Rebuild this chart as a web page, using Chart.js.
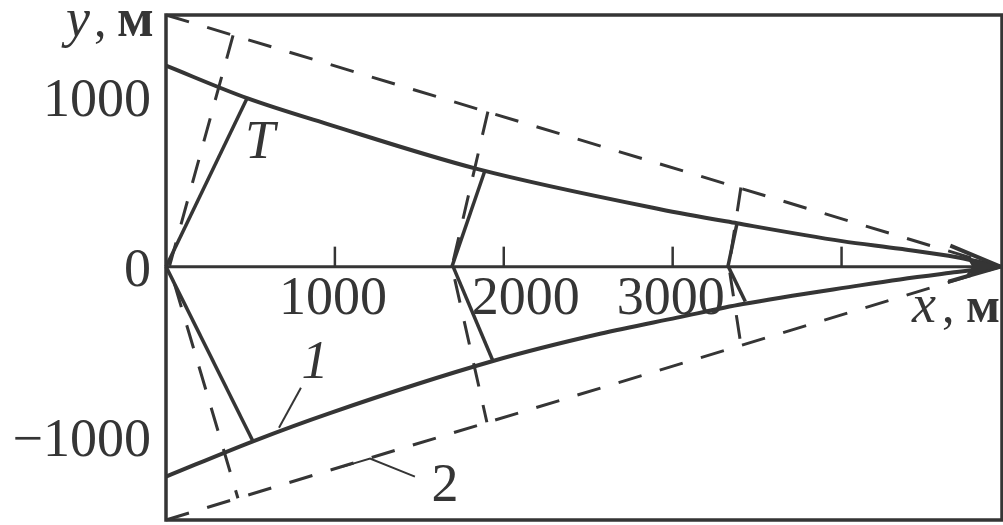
<!DOCTYPE html>
<html>
<head>
<meta charset="utf-8">
<script src="https://cdn.jsdelivr.net/npm/chart.js@4"></script>
<style>
  html, body { margin: 0; padding: 0; background: #fff; }
  canvas { display: block; }
</style>
</head>
<body>
<canvas id="chart" width="1003" height="525"></canvas>
<script>
// curve 1, upper and lower branch (x, y in metres)
const upperX = [0, 480, 971, 1841, 2925, 3381, 4003, 4346, 4683, 4940];
const upperY = [1182, 991, 834, 575, 338, 255, 150, 105, 55, 0];
const lowerX = [0, 515, 971, 1936, 2570, 3026, 3416, 4109, 4346, 4683, 4940];
const lowerY = [-1235, -1027, -861, -555, -395, -300, -220, -110, -75, -32, 0];

// curve 2, dashed boundaries
const boundUpperX = [0, 4940];
const boundUpperY = [1480, 0];
const boundLowerX = [0, 4940];
const boundLowerY = [-1490, 0];

// dashed cross lines (top point, vertex on the axis, bottom point)
const crossLeftX = [397, 20, 426];
const crossLeftY = [1360, 0, -1362];
const crossMidX = [1906, 1693, 1900];
const crossMidY = [912, 0, -915];
const crossRightX = [3404, 3333, 3404];
const crossRightY = [465, 0, -460];

// solid segments from the axis to curve 1
const segments = [
  { x: [0, 480], y: [0, 991] },
  { x: [0, 515], y: [0, -1027] },
  { x: [1693, 1889], y: [0, 567] },
  { x: [1700, 1936], y: [0, -555] },
  { x: [3327, 3381], y: [0, 255] },
  { x: [3330, 3430], y: [0, -205] }
];

// leader lines for the labels "1" and "2"
const leader1X = [799, 669];
const leader1Y = [-712, -947];
const leader2X = [1048, 1208, 1474];
const leader2Y = [-1176, -1129, -1235];

// axes and labels
const xTicks = [1000, 2000, 3000, 4000];
const xTickLabels = ['1000', '2000', '3000', ''];
const yTicks = [1000, 0, -1000];
const yTickLabels = ['1000', '0', '\u22121000'];
const notes = [
  { text: 'T', x: 557, y: 641, italic: true },
  { text: '1', x: 882, y: -653, italic: true },
  { text: '2', x: 1652, y: -1376, italic: false }
];

const INK = '#353535';
const SERIF = '"Liberation Serif", "DejaVu Serif", serif';

function pts(xs, ys) {
  return xs.map((x, i) => ({ x: x, y: ys[i] }));
}

function lineSet(xs, ys, dashed, width) {
  return {
    data: pts(xs, ys),
    showLine: true,
    borderColor: INK,
    borderWidth: width || 3,
    borderDash: dashed ? [24, 19] : [],
    pointRadius: 0,
    fill: false,
    tension: 0,
    clip: false
  };
}

const curveUpper = lineSet(upperX, upperY, false, 4);
curveUpper.cubicInterpolationMode = 'monotone';
const curveLower = lineSet(lowerX, lowerY, false, 4);
curveLower.cubicInterpolationMode = 'monotone';

const datasets = [
  curveUpper,
  curveLower,
  lineSet(boundUpperX, boundUpperY, true, 3),
  lineSet(boundLowerX, boundLowerY, true, 3),
  lineSet(crossLeftX, crossLeftY, true, 3),
  lineSet(crossMidX, crossMidY, true, 3),
  lineSet(crossRightX, crossRightY, true, 3),
  lineSet(leader1X, leader1Y, false, 2),
  lineSet(leader2X, leader2Y, false, 2)
].concat(segments.map(s => lineSet(s.x, s.y, false, 3.5)));

// frame, axis, ticks, arrow and all the text
const decor = {
  id: 'decor',
  beforeDatasetsDraw(chart) {
    const { ctx, chartArea: a, scales: { x, y } } = chart;
    const y0 = y.getPixelForValue(0);
    ctx.save();
    ctx.strokeStyle = INK;
    ctx.lineWidth = 3;
    ctx.beginPath();
    ctx.moveTo(a.left, y0);
    ctx.lineTo(x.getPixelForValue(4940), y0);
    ctx.stroke();
    ctx.lineWidth = 2.5;
    xTicks.forEach(v => {
      const px = x.getPixelForValue(v);
      ctx.beginPath();
      ctx.moveTo(px, y0);
      ctx.lineTo(px, y0 - 20);
      ctx.stroke();
    });
    ctx.restore();
  },
  afterDatasetsDraw(chart) {
    const { ctx, chartArea: a, scales: { x, y } } = chart;
    const y0 = y.getPixelForValue(0);
    ctx.save();
    ctx.strokeStyle = INK;
    ctx.fillStyle = INK;

    // frame
    ctx.lineWidth = 3.5;
    ctx.strokeRect(a.left, a.top, a.right - a.left, a.bottom - a.top);

    // arrow head at the end of the x axis
    const tx = x.getPixelForValue(4940);
    ctx.lineWidth = 4;
    ctx.beginPath();
    ctx.moveTo(tx - 50, y0 - 21);
    ctx.lineTo(tx, y0);
    ctx.lineTo(tx - 52, y0 + 15);
    ctx.stroke();
    ctx.beginPath();
    ctx.moveTo(tx, y0);
    ctx.lineTo(tx - 34, y0 - 10);
    ctx.lineTo(tx - 28, y0);
    ctx.lineTo(tx - 34, y0 + 8);
    ctx.closePath();
    ctx.fill();

    // y tick labels
    ctx.font = '54px ' + SERIF;
    ctx.textAlign = 'right';
    ctx.textBaseline = 'alphabetic';
    yTicks.forEach((v, i) => {
      ctx.fillText(yTickLabels[i], a.left - 15, y.getPixelForValue(v) + 19);
    });

    // x tick labels, sitting inside the plot under the axis
    ctx.textAlign = 'center';
    xTicks.forEach((v, i) => {
      if (!xTickLabels[i]) return;
      const nudge = v === 2000 ? 22 : -2;
      ctx.fillText(xTickLabels[i], x.getPixelForValue(v) + nudge, y0 + 47);
    });

    // curve labels
    notes.forEach(n => {
      ctx.font = (n.italic ? 'italic ' : '') + '54px ' + SERIF;
      ctx.fillText(n.text, x.getPixelForValue(n.x), y.getPixelForValue(n.y));
    });

    // axis titles
    ctx.textAlign = 'left';
    ctx.font = 'italic 54px ' + SERIF;
    ctx.fillText('y', 66, 36);
    ctx.font = '50px ' + SERIF;
    ctx.fillText(',', 94, 36);
    ctx.font = 'bold 54px ' + SERIF;
    ctx.fillText('\u043c', 117, 36);

    ctx.font = 'italic 54px ' + SERIF;
    ctx.fillText('x', 912, 322);
    ctx.font = '50px ' + SERIF;
    ctx.fillText(',', 942, 322);
    ctx.font = 'bold 50px ' + SERIF;
    ctx.fillText('\u043c', 966, 322);

    ctx.restore();
  }
};

new Chart(document.getElementById('chart'), {
  type: 'scatter',
  data: { datasets: datasets },
  options: {
    responsive: false,
    animation: false,
    devicePixelRatio: 1,
    layout: { padding: { left: 166, top: 15, right: 1, bottom: 5 } },
    scales: {
      x: { type: 'linear', min: 0, max: 4950, display: false },
      y: { type: 'linear', min: -1490, max: 1480, display: false }
    },
    plugins: {
      legend: { display: false },
      tooltip: { enabled: false }
    }
  },
  plugins: [decor]
});
</script>
</body>
</html>
